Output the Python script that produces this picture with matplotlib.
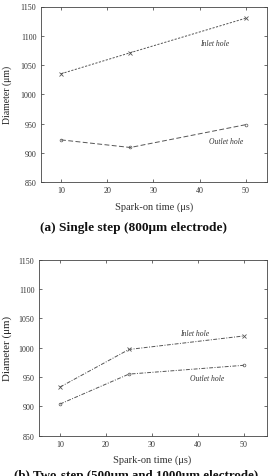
import numpy as np
import matplotlib
matplotlib.use('Agg')
import matplotlib.pyplot as plt

plt.rcParams['font.family'] = ['Liberation Serif', 'DejaVu Serif']

# data
spark_on = [10, 25, 50]
xticks = [10, 20, 30, 40, 50]
yticks = [850, 900, 950, 1000, 1050, 1100, 1150]

inlet_a = [1035, 1071, 1130]
outlet_a = [922, 909, 948]

inlet_b = [933, 997, 1020]
outlet_b = [904, 955, 970]

captions = ['(a) Single step (800\u03bcm electrode)',
            '(b) Two-step (500\u03bcm and 1000\u03bcm electrode)']

W, H = 269, 477
fig = plt.figure(figsize=(W / 100, H / 100), dpi=100)
fig.patch.set_facecolor('white')

line_col = '#555555'
text_col = '#333333'


def px_axes(left, top, right, bottom):
    """Axes placed by pixel edges (origin top-left)."""
    return fig.add_axes([left / W, 1 - bottom / H, (right - left) / W, (bottom - top) / H])


def style(ax, xlim):
    ax.set_xlim(*xlim)
    ax.set_ylim(850, 1150)
    ax.set_xticks(xticks)
    ax.set_yticks(yticks)
    ax.tick_params(direction='in', length=2.5, width=0.5, labelsize=5.8,
                   colors=text_col, top=True, right=True, pad=3)
    for s in ax.spines.values():
        s.set_linewidth(0.6)
        s.set_color('#444444')
    ax.set_xlabel('Spark-on time (\u03bcs)', fontsize=7.5, color=text_col, labelpad=5)


# panel (a)
ax1 = px_axes(40.5, 7.5, 267, 183)
ax1.plot(spark_on, inlet_a, color=line_col, lw=0.7, dashes=(2.2, 1.5),
         marker='x', ms=2.5, mew=0.6)
ax1.plot(spark_on, outlet_a, color=line_col, lw=0.7, dashes=(5, 2.5),
         marker='o', ms=2, mew=0.5, mfc='none')
ax1.text(40, 1088, 'Inlet hole', fontsize=5.5, style='italic', color=text_col, va='center')
ax1.text(42, 920, 'Outlet hole', fontsize=5.5, style='italic', color=text_col, va='center')
style(ax1, (5.56, 54.6))
ax1.set_ylabel('Diameter (\u03bcm)', fontsize=7, color='#222222', labelpad=6)

# panel (b)
ax2 = px_axes(38.5, 260.7, 266.5, 436.7)
ax2.plot(spark_on, inlet_b, color=line_col, lw=0.7, dashes=(4, 1.5, 1, 1.5),
         marker='x', ms=2.5, mew=0.6)
ax2.plot(spark_on, outlet_b, color=line_col, lw=0.7, dashes=(4, 1.5, 1, 1.5),
         marker='o', ms=2, mew=0.5, mfc='none')
ax2.text(36.1, 1025, 'Inlet hole', fontsize=5.5, style='italic', color=text_col, va='center')
ax2.text(38.3, 948, 'Outlet hole', fontsize=5.5, style='italic', color=text_col, va='center')
style(ax2, (5.3, 54.97))
ax2.set_ylabel('Diameter (\u03bcm)', fontsize=7.8, color='#222222', labelpad=5)

fig.text(133 / W, 1 - 228.5 / H, captions[0], ha='center', va='center',
         fontsize=9.6, fontweight='bold', color='#111111')
fig.text(136 / W, 1 - 476 / H, captions[1], ha='center', va='center',
         fontsize=9.4, fontweight='bold', color='#111111')

fig.savefig('out.png', dpi=100)
